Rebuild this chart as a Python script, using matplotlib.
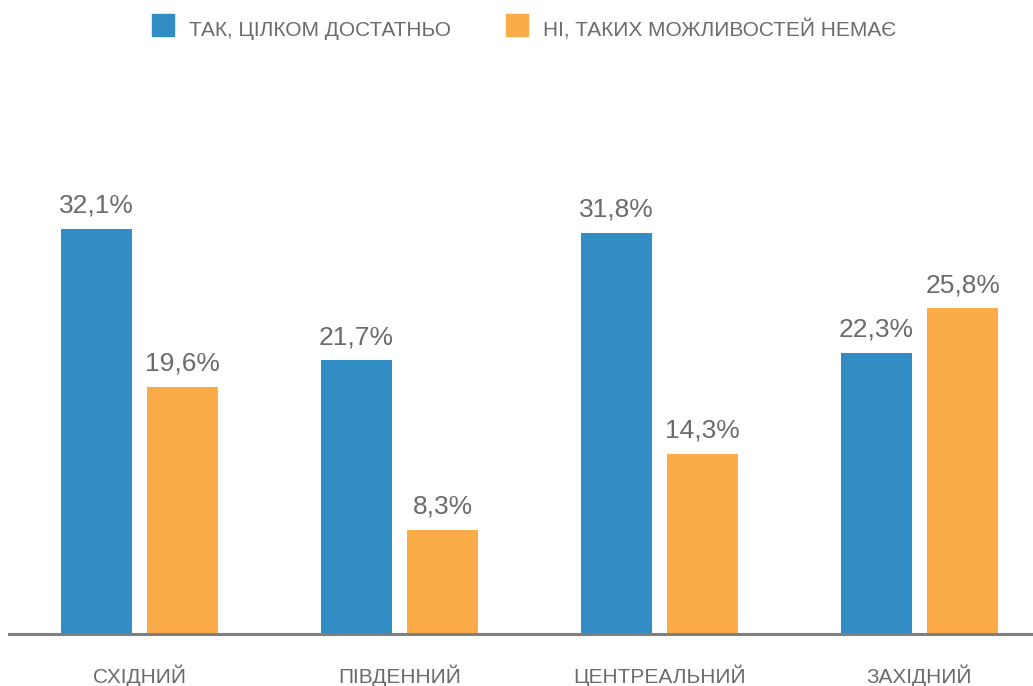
import matplotlib.pyplot as plt
from matplotlib.patches import Rectangle

plt.rcParams['font.family'] = ['Liberation Sans', 'DejaVu Sans']

regions = ['СХІДНИЙ', 'ПІВДЕННИЙ', 'ЦЕНТРЕАЛЬНИЙ', 'ЗАХІДНИЙ']
series_names = ['ТАК, ЦІЛКОМ ДОСТАТНЬО', 'НІ, ТАКИХ МОЖЛИВОСТЕЙ НЕМАЄ']
yes_vals = [32.1, 21.7, 31.8, 22.3]
no_vals = [19.6, 8.3, 14.3, 25.8]

blue = '#318DC4'
orange = '#FBAC48'
text_col = '#6B6B6B'

fig = plt.figure(figsize=(10.33, 6.86), dpi=100)
ax = fig.add_axes([0.0, 0.0751, 1.0, 0.9249])

x = list(range(len(regions)))
w = 0.273
off = 0.166
ax.bar([i - off for i in x], yes_vals, width=w, color=blue)
ax.bar([i + off for i in x], no_vals, width=w, color=orange)

for i in x:
    ax.text(i - off, yes_vals[i] + 1.27, f'{yes_vals[i]:.1f}%'.replace('.', ','),
            ha='center', va='baseline', fontsize=19, color=text_col)
    ax.text(i + off, no_vals[i] + 1.27, f'{no_vals[i]:.1f}%'.replace('.', ','),
            ha='center', va='baseline', fontsize=19, color=text_col)
    ax.text(i, -3.25, regions[i], ha='center', va='center', fontsize=15,
            color=text_col, clip_on=False)

ax.set_xlim(-0.5365, 3.4365)
ax.set_ylim(0, 50.2)
for s in ['top', 'right', 'left']:
    ax.spines[s].set_visible(False)
ax.spines['bottom'].set_color('#7F7F7F')
ax.spines['bottom'].set_linewidth(2.2)
ax.spines['bottom'].set_bounds(-0.5, 3.4365)
ax.set_xticks([])
ax.set_yticks([])

# legend
for sx, col, name in [(152, blue, series_names[0]), (506, orange, series_names[1])]:
    fig.patches.append(Rectangle((sx / 1033, 1 - 36 / 686), 22 / 1033, 22 / 686,
                                 transform=fig.transFigure, color=col))
    fig.text((sx + 37) / 1033, 1 - 30 / 686, name, ha='left', va='center',
             fontsize=15, color=text_col)

plt.savefig('out.png', dpi=100)
